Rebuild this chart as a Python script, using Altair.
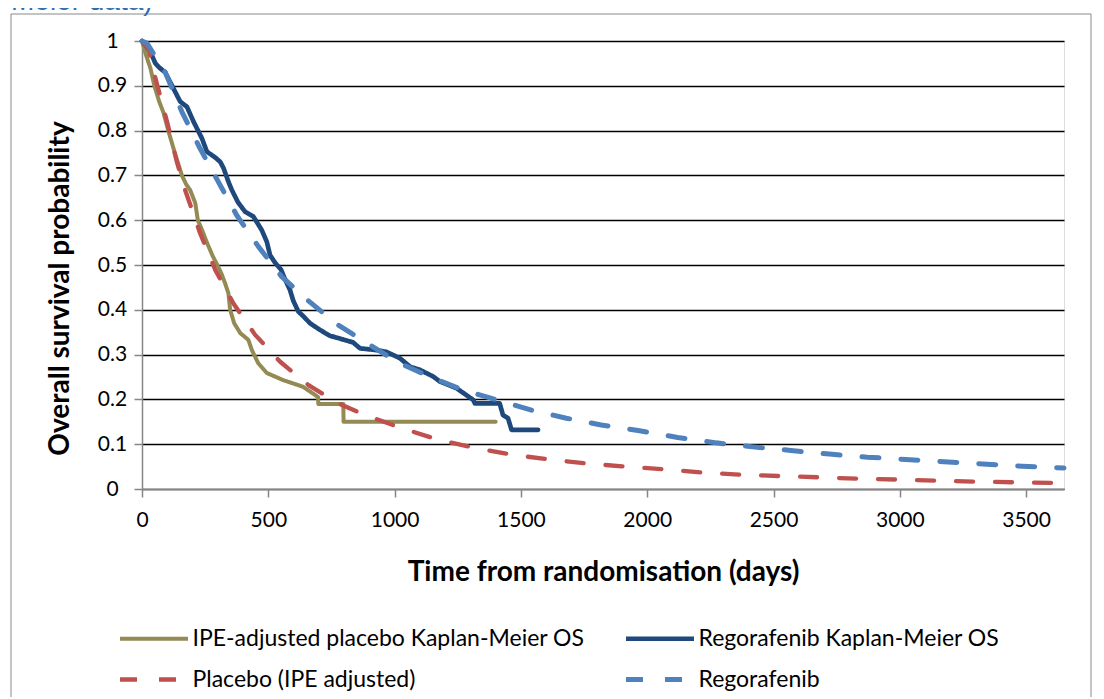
import altair as alt
import pandas as pd

# ---- data ----
series_names = [
    "IPE-adjusted placebo Kaplan-Meier OS",
    "Placebo (IPE adjusted)",
    "Regorafenib Kaplan-Meier OS",
    "Regorafenib",
]
series_colors = ["#948A54", "#C0504D", "#1F497D", "#4F81BD"]
series_dash = [[1, 0], [17, 22], [1, 0], [17, 22]]
series_width = [4, 5, 4, 5]

ipe_km_days = [0, 15, 33, 49, 68, 85, 104, 130, 158, 175, 191, 211, 221, 240, 257, 280, 298,
               315, 329, 342, 349, 365, 389, 421, 435, 460, 494, 559, 638, 685, 697, 698, 797,
               798, 1400]
ipe_km_surv = [1.0, 0.97, 0.94, 0.90, 0.865, 0.84, 0.80, 0.75, 0.70, 0.68, 0.667, 0.638, 0.60,
               0.575, 0.55, 0.52, 0.50, 0.48, 0.459, 0.437, 0.40, 0.37, 0.348, 0.333, 0.31, 0.281,
               0.259, 0.243, 0.228, 0.21, 0.205, 0.19, 0.19, 0.15, 0.15]

rego_km_days = [0, 15, 33, 53, 70, 92, 119, 151, 178, 204, 237, 257, 290, 310, 323, 342, 356,
                380, 408, 441, 474, 494, 507, 527, 550, 567, 586, 599, 619, 640, 665, 705, 744,
                800, 836, 863, 929, 968, 1021, 1061, 1100, 1153, 1179, 1245, 1311, 1318, 1416,
                1429, 1449, 1463, 1568]
rego_km_surv = [1.0, 0.99, 0.976, 0.95, 0.94, 0.93, 0.90, 0.865, 0.853, 0.82, 0.783, 0.753,
                0.74, 0.73, 0.716, 0.686, 0.667, 0.64, 0.619, 0.608, 0.578, 0.552, 0.522, 0.505,
                0.49, 0.467, 0.444, 0.42, 0.396, 0.385, 0.37, 0.355, 0.342, 0.333, 0.327, 0.314,
                0.31, 0.306, 0.292, 0.273, 0.266, 0.251, 0.24, 0.225, 0.199, 0.191, 0.191,
                0.165, 0.158, 0.132, 0.132]

placebo_days = [0, 26, 53, 99, 138, 171, 230, 290, 362, 448, 547, 659, 777, 883, 1048, 1179,
                1324, 1469, 1614, 1759, 1917, 2062, 2214, 2372, 2523, 2681, 2833, 2991, 3143,
                3301, 3459, 3650]
placebo_surv = [1.0, 0.982, 0.917, 0.82, 0.73, 0.667, 0.571, 0.489, 0.414, 0.344, 0.284, 0.232,
                0.191, 0.165, 0.132, 0.109, 0.091, 0.076, 0.066, 0.057, 0.05, 0.044, 0.037,
                0.032, 0.029, 0.026, 0.023, 0.021, 0.0186, 0.0164, 0.015, 0.013]

rego_days = [0, 20, 92, 158, 230, 293, 375, 461, 553, 659, 771, 882, 1008, 1134, 1271, 1403,
             1542, 1680, 1818, 1970, 2121, 2273, 2418, 2569, 2721, 2872, 3024, 3175, 3327,
             3485, 3650]
rego_surv = [1.0, 0.995, 0.93, 0.842, 0.76, 0.695, 0.611, 0.541, 0.474, 0.42, 0.368, 0.329,
             0.284, 0.252, 0.221, 0.199, 0.176, 0.158, 0.143, 0.130, 0.115, 0.103, 0.094,
             0.086, 0.078, 0.071, 0.066, 0.061, 0.056, 0.051, 0.047]

x_ticks = [0, 500, 1000, 1500, 2000, 2500, 3000, 3500]
y_ticks = [0, 0.1, 0.2, 0.3, 0.4, 0.5, 0.6, 0.7, 0.8, 0.9, 1.0]

FONT = "Lato"
W, H = 922, 448

def frame(days, surv, name):
    return pd.DataFrame({"day": days, "surv": surv, "series": name})

# drawing order: Kaplan-Meier curves first, model curves on top
frames = [
    frame(ipe_km_days, ipe_km_surv, "IPE-adjusted placebo Kaplan-Meier OS"),
    frame(rego_km_days, rego_km_surv, "Regorafenib Kaplan-Meier OS"),
    frame(placebo_days, placebo_surv, "Placebo (IPE adjusted)"),
    frame(rego_days, rego_surv, "Regorafenib"),
]

x_enc = alt.X("day:Q", scale=alt.Scale(domain=[0, 3650], nice=False),
              axis=alt.Axis(values=x_ticks, format="d", grid=False,
                            title="Time from randomisation (days)",
                            tickSize=8, tickColor="#868686", domainColor="#868686",
                            domainWidth=1.5, tickWidth=1.5, labelFontSize=21, labelFont=FONT,
                            labelColor="#000000", labelBaseline="middle", labelPadding=23,
                            labelFlush=False, titleFont=FONT, titleFontSize=28,
                            titleFontWeight="bold", titleColor="#000000",
                            titleX=461, titleY=83, titleBaseline="middle", titleAlign="center"))
y_enc = alt.Y("surv:Q", scale=alt.Scale(domain=[0, 1], nice=False),
              axis=alt.Axis(values=y_ticks, format=".1~f", grid=True, gridColor="#000000",
                            gridWidth=1.3, tickSize=8, tickColor="#868686",
                            domainColor="#868686", domainWidth=1.5, tickWidth=1.5,
                            labelFontSize=21, labelFont=FONT, labelColor="#000000",
                            labelAlign="center", labelPadding=22, labelFlush=False,
                            title="Overall survival probability", titleFont=FONT,
                            titleFontSize=28, titleFontWeight="bold", titleColor="#000000",
                            titleX=-82, titleY=247, titleAngle=-90, titleAlign="center",
                            titleBaseline="middle"))

legend_common = dict(orient="none", legendX=-23, legendY=586, title=None, columns=2)
color_enc = alt.Color("series:N",
                      scale=alt.Scale(domain=series_names, range=series_colors),
                      legend=alt.Legend(columnPadding=31, rowPadding=17,
                                        symbolType="M-4,0H4", symbolSize=289,
                                        symbolOffset=23.5, labelOffset=27,
                                        labelFont=FONT, labelFontSize=23,
                                        labelColor="#000000", labelLimit=700, padding=0,
                                        **legend_common))
dash_enc = alt.StrokeDash("series:N",
                          scale=alt.Scale(domain=series_names, range=series_dash),
                          legend=alt.Legend(**legend_common))
width_enc = alt.StrokeWidth("series:N",
                            scale=alt.Scale(domain=series_names, range=series_width),
                            legend=alt.Legend(**legend_common))

layers = []
border = alt.Chart(pd.DataFrame({"k": [0]})).mark_rect(
    filled=False, stroke="#898989", strokeWidth=1).encode(
    x=alt.value(-131), x2=alt.value(949), y=alt.value(-27), y2=alt.value(720))
layers.append(border)

title_txt = alt.Chart(pd.DataFrame({"t": ["Meier data)"]})).mark_text(
    align="left", baseline="alphabetic", font="Liberation Sans", fontSize=28,
    color="#2E6DB4").encode(text="t:N", x=alt.value(-131), y=alt.value(-31))
layers.append(title_txt)

for f in frames:
    layers.append(
        alt.Chart(f).mark_line(strokeCap="round", strokeJoin="round").encode(
            x=x_enc, y=y_enc, color=color_enc, strokeDash=dash_enc, strokeWidth=width_enc,
            order="day:Q")
    )

chart = alt.layer(*layers).properties(
    width=W, height=H,
    autosize=alt.AutoSizeParams(type="none"),
    padding={"left": 134, "top": 33, "right": 32, "bottom": 208},
).configure_view(stroke=None).configure(background="#ffffff")

chart.save("out.html", embed_options={"renderer": "svg", "actions": False})
